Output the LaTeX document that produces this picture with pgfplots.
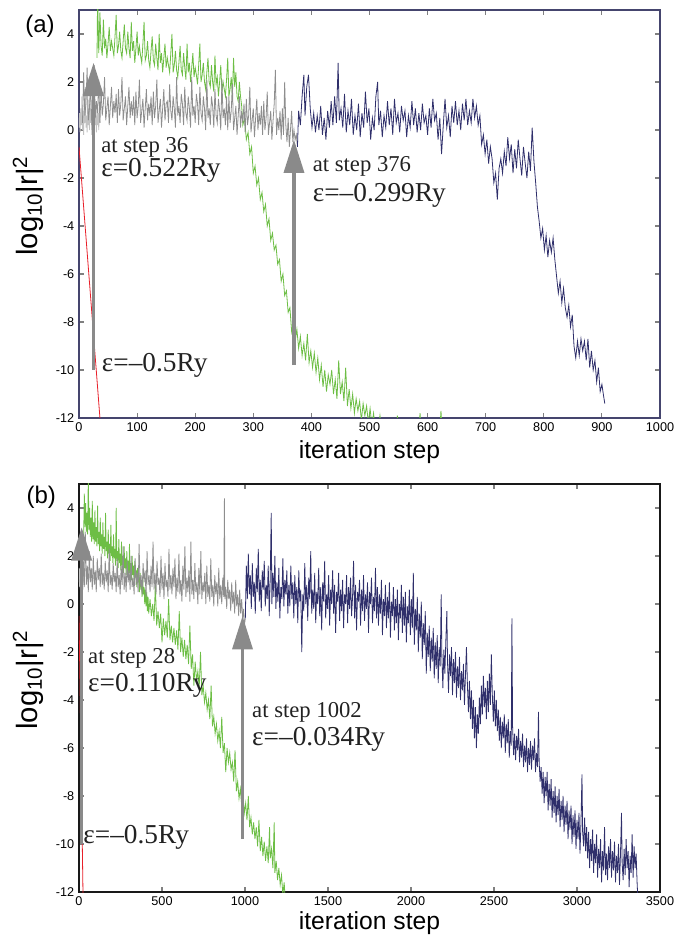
\documentclass[border=0pt]{standalone}
\usepackage{fontspec}
\setmainfont{Liberation Sans}
\newfontfamily\tnr{Liberation Serif}
\usepackage{pgfplots}
\pgfplotsset{compat=1.18}
\usetikzlibrary{arrows.meta}

\definecolor{cgreen}{HTML}{6DBE45}
\definecolor{cnavy}{HTML}{2F2F6B}
\definecolor{cgray}{HTML}{8E8E8E}
\definecolor{clgray}{HTML}{C2C2C2}
\definecolor{cred}{HTML}{E8202A}
\definecolor{carrow}{HTML}{8A8A8A}
\definecolor{frameA}{HTML}{45456E}
\definecolor{ctext}{HTML}{222222}

\pgfplotsset{
  panel/.style={
    scale only axis, width=435.75pt, height=306pt,
    ymin=-12, ymax=5, ytick={-12,-10,...,4},
    tick align=inside, major tick length=4pt,
    tick style={color=gray, line width=0.8pt},
    ticklabel style={font=\fontsize{9.5}{11}\selectfont},
    /pgf/number format/assume math mode=true,
    /pgf/number format/1000 sep={},
    scaled ticks=false,
    clip mode=individual,
    xlabel={iteration step},
    ylabel={log\textsubscript{10}|r|\textsuperscript{2}},
    xlabel style={font=\fontsize{18.5}{22}\selectfont, at={(axis description cs:0.5,0)}, anchor=base, yshift=-30.75pt},
    ylabel style={font=\fontsize{22}{26}\selectfont, at={(axis description cs:-0.0878,0.52)}, anchor=center},
  },
  dline/.style={line width=0.6pt, no markers},
}
\tikzset{
  ann1/.style={font=\tnr\fontsize{17}{20}\selectfont, anchor=base west, inner sep=0pt, text=ctext},
  ann2/.style={font=\tnr\fontsize{20.5}{24}\selectfont, anchor=base west, inner sep=0pt, text=ctext},
  arr/.style={carrow, line width=2.6pt, -{Triangle[width=15pt,length=25pt]}},
}

\begin{document}
\begin{tikzpicture}

% ---------------- panel (a)
\begin{axis}[panel, at={(0pt,355.5pt)}, anchor=south west,
  xmin=0, xmax=1000, xtick={0,100,...,1000},
  axis line style={frameA, line width=1pt}]

\addplot[dline, cgreen] coordinates {
(31,3.0)(32,5.6)(34,3.2)(36,4.9)(38,3.5)(40,3.1)(42,4.6)(44,3.4)(46,3.8)(48,3.0)(50,3.6)(52,4.3)(54,3.3)(56,3.7)(58,3.4)(60,3.1)(62,3.9)(64,4.8)(66,3.2)(68,3.5)(70,4.1)(72,3.3)(74,3.0)(76,3.7)(78,4.4)(80,3.4)(82,3.2)(84,4.1)(86,3.4)(88,3.0)(90,4.5)(92,3.3)(94,3.7)(96,2.8)(98,3.4)(100,4.1)(102,3.1)(104,3.5)(106,3.1)(108,2.8)(110,3.6)(112,4.5)(114,2.9)(116,3.1)(118,3.7)(120,2.9)(122,2.6)(124,3.3)(126,3.9)(128,2.9)(130,2.7)(132,3.6)(134,3.0)(136,2.5)(138,4.0)(140,2.8)(142,3.2)(144,2.4)(146,3.0)(148,3.6)(150,2.6)(152,3.0)(154,2.7)(156,2.4)(158,3.2)(160,4.0)(162,2.4)(164,2.7)(166,3.3)(168,2.5)(170,2.2)(172,2.8)(174,3.5)(176,2.5)(178,2.3)(180,3.2)(182,2.6)(184,2.1)(186,3.6)(188,2.4)(190,2.8)(192,2.0)(194,2.6)(196,3.2)(198,2.2)(200,2.6)(202,2.3)(204,1.9)(206,2.7)(208,3.6)(210,2.0)(212,2.3)(214,2.8)(216,2.0)(218,1.7)(220,2.4)(222,3.0)(224,2.0)(226,1.8)(228,2.7)(230,2.0)(232,1.6)(234,3.1)(236,1.9)(238,2.2)(240,1.4)(242,2.0)(244,2.7)(246,1.6)(248,2.0)(250,1.7)(252,1.4)(254,2.1)(256,3.0)(258,1.4)(260,1.7)(262,2.2)(264,1.4)(266,3.0)(268,1.8)(270,2.4)(272,1.4)(274,1.2)(276,2.0)(278,1.4)(280,1.0)(282,0.2)(285,0.5)(288,-0.4)(291,-0.1)(294,-1.0)(297,-0.7)(300,-1.8)(303,-1.5)(306,-2.3)(309,-2.0)(312,-2.9)(315,-2.6)(318,-3.4)(321,-3.1)(324,-4.0)(327,-3.7)(330,-4.6)(333,-4.3)(336,-5.0)(339,-4.8)(342,-5.6)(345,-5.4)(348,-6.3)(351,-6.0)(354,-6.9)(357,-6.7)(360,-7.6)(363,-7.4)(366,-8.4)(369,-8.0)(372,-8.8)(375,-8.3)(378,-9.1)(381,-8.6)(384,-9.4)(387,-8.9)(390,-9.6)(393,-8.5)(396,-9.7)(399,-9.2)(402,-9.9)(405,-9.3)(408,-10.1)(411,-9.5)(414,-10.4)(417,-9.8)(420,-10.7)(423,-10.0)(426,-10.9)(429,-10.2)(432,-10.6)(435,-10.0)(438,-11.0)(441,-10.4)(444,-11.2)(447,-9.6)(450,-11.0)(453,-10.5)(456,-11.3)(459,-9.9)(462,-11.5)(465,-10.8)(468,-11.6)(471,-11.0)(474,-11.8)(477,-11.2)(480,-11.7)(483,-11.3)(486,-12.1)(489,-11.4)(492,-11.9)(495,-11.5)(498,-12.2)(501,-11.6)(504,-12.3)(507,-11.8)(510,-12.5)(515,-12.5)(518,-11.9)(521,-12.5)(546,-12.5)(548,-11.9)(550,-12.5)(585,-12.5)(587,-11.8)(589,-12.5)(621,-12.5)(623,-11.7)(625,-12.5)
};

\addplot[dline, clgray] coordinates {
(0,0.1)(1,0.7)(2,-0.1)(3,0.9)(4,0.2)(5,1.4)(6,0.0)(7,0.8)(8,-0.2)(9,1.1)(10,0.3)(11,1.8)(12,0.1)(13,0.6)(14,-0.1)(15,1.3)(16,0.2)(17,0.9)(18,0.0)(19,1.6)(20,0.3)(21,0.7)(22,-0.2)(23,1.2)(24,0.1)(25,0.8)(26,0.0)(27,1.5)(28,0.2)(29,0.6)(30,-0.1)(31,1.0)(32,0.2)(33,0.7)(34,0.0)(35,0.9)(36,0.3)
};

\addplot[dline, cgray] coordinates {
(6,0.3)(8,2.4)(10,0.6)(12,1.1)(14,2.6)(16,0.4)(18,0.9)(20,2.0)(22,0.2)(24,1.0)(26,2.7)(28,0.5)(30,1.2)(32,0.7)(34,2.1)(36,0.3)(38,1.7)(40,0.6)(42,1.1)(44,2.2)(46,0.4)(48,0.9)(50,1.4)(52,0.2)(54,1.0)(56,1.8)(58,0.5)(60,1.2)(62,0.7)(64,1.5)(66,0.3)(68,1.7)(70,0.6)(72,1.1)(74,2.2)(76,0.4)(78,0.9)(80,1.4)(82,0.2)(84,1.0)(86,1.8)(88,0.5)(90,1.2)(92,0.6)(94,1.4)(96,0.2)(98,1.6)(100,0.5)(102,1.0)(104,2.1)(106,0.3)(108,0.8)(110,1.3)(112,0.1)(114,0.9)(116,1.7)(118,0.4)(120,1.1)(122,0.6)(124,1.4)(126,0.2)(128,1.6)(130,0.5)(132,1.0)(134,2.1)(136,0.3)(138,0.8)(140,1.3)(142,0.1)(144,0.9)(146,1.7)(148,0.4)(150,1.1)(152,1.2)(154,0.3)(156,1.9)(158,0.8)(160,0.4)(162,1.4)(164,0.9)(166,0.1)(168,2.2)(170,0.6)(172,1.0)(174,0.3)(176,1.5)(178,1.1)(180,0.2)(182,1.8)(184,0.7)(186,0.4)(188,1.4)(190,0.9)(192,0.1)(194,2.2)(196,0.6)(198,1.0)(200,0.3)(202,1.5)(204,1.1)(206,0.2)(208,1.8)(210,0.7)(212,0.4)(214,1.4)(216,0.9)(218,0.0)(220,2.1)(222,0.5)(224,0.9)(226,0.2)(228,1.4)(230,1.0)(232,0.1)(234,1.7)(236,0.6)(238,0.3)(240,1.3)(242,0.8)(244,0.0)(246,2.1)(248,0.5)(250,0.9)(252,0.2)(254,1.4)(256,0.0)(258,1.4)(260,0.3)(262,0.8)(264,1.9)(266,0.0)(268,0.5)(270,1.0)(272,-0.2)(274,0.6)(276,1.4)(278,0.1)(280,0.8)(282,0.3)(284,1.1)(286,-0.1)(288,1.3)(290,0.2)(292,0.6)(294,1.8)(296,-0.1)(298,0.4)(300,0.9)(302,-0.3)(304,0.5)(306,1.3)(308,0.0)(310,0.7)(312,0.2)(314,1.0)(316,-0.2)(318,1.2)(320,0.0)(322,0.5)(324,1.6)(326,-0.2)(328,0.3)(330,0.8)(332,-0.4)(334,0.4)(336,1.1)(338,2.5)(340,-0.2)(342,0.5)(344,0.0)(346,0.8)(348,-0.4)(350,0.9)(352,-0.2)(354,2.0)(356,0.2)(358,-0.5)(360,0.5)(362,-0.7)(364,0.0)(366,0.8)(368,-0.5)(370,0.0)(372,-0.4)(374,-0.2)(376,-0.7)
};

\addplot[dline, cnavy] coordinates {
(376,-0.7)(378,0.8)(381,0.2)(384,1.4)(387,2.3)(389,0.6)(392,1.8)(395,2.3)(398,0.9)(401,0.1)(404,0.7)(407,-0.1)(410,0.6)(413,0.0)(416,1.0)(419,-0.2)(422,0.5)(425,-0.4)(428,0.8)(431,0.1)(434,1.2)(437,0.2)(440,1.4)(443,0.3)(446,2.8)(448,0.4)(451,0.9)(454,0.1)(457,1.5)(460,-0.1)(463,0.8)(466,0.2)(469,1.3)(472,-0.2)(475,0.6)(478,0.0)(481,1.1)(484,-0.3)(487,0.7)(490,0.1)(493,1.6)(496,0.3)(499,0.9)(502,-0.4)(505,0.5)(508,0.0)(511,1.4)(514,2.0)(516,0.2)(519,0.8)(522,-0.3)(525,0.6)(528,0.1)(531,1.2)(534,0.2)(537,0.9)(540,-0.2)(543,1.3)(546,0.3)(549,0.7)(552,-0.1)(555,1.0)(558,0.4)(561,0.8)(564,-0.3)(567,0.6)(570,0.1)(573,1.2)(576,0.2)(579,0.9)(582,-0.1)(585,0.7)(588,0.0)(591,1.1)(594,0.3)(597,0.6)(600,-0.2)(603,0.9)(606,0.1)(609,1.3)(612,0.4)(615,0.7)(618,-0.4)(621,0.5)(624,-1.0)(627,0.2)(630,1.3)(633,0.1)(636,0.6)(639,-0.3)(642,1.0)(645,0.3)(648,1.2)(651,0.2)(654,0.8)(657,0.0)(660,1.1)(663,0.4)(666,1.3)(669,0.2)(672,0.8)(675,0.3)(678,1.3)(681,0.5)(684,1.0)(687,0.2)(690,0.6)(693,-0.6)(696,-0.2)(699,-1.0)(702,-0.4)(705,-1.4)(708,-0.7)(711,-1.2)(714,-2.2)(717,-1.8)(720,-2.9)(723,-1.6)(726,-1.2)(729,-1.8)(732,-0.9)(735,-1.5)(738,-0.3)(741,-1.2)(744,-0.6)(747,-1.8)(750,-0.8)(753,-1.6)(756,-0.4)(759,-1.2)(762,-1.9)(765,-0.7)(768,-1.4)(771,-2.0)(774,-0.9)(777,-1.7)(780,0.1)(783,-1.3)(786,-2.2)(789,-3.2)(792,-3.8)(795,-4.5)(798,-4.1)(801,-5.0)(804,-4.4)(807,-5.3)(810,-4.6)(813,-5.1)(816,-4.5)(819,-5.4)(822,-6.1)(825,-6.8)(828,-6.3)(831,-7.2)(834,-6.6)(837,-7.4)(840,-7.8)(843,-7.3)(846,-8.2)(849,-7.7)(852,-9.0)(855,-9.5)(858,-8.8)(861,-9.4)(864,-8.7)(867,-9.2)(870,-8.8)(873,-9.6)(876,-8.7)(879,-9.9)(882,-9.2)(885,-10.0)(888,-9.6)(891,-10.5)(894,-9.9)(897,-10.9)(900,-10.6)(903,-11.1)(905,-11.4)
};

\addplot[dline, cred] coordinates {(0,-0.7)(37,-12.3)};

\draw[arr] (axis cs:25,-10) -- (axis cs:25,2.8);
\draw[arr] (axis cs:370,-9.8) -- (axis cs:370,-0.4);
\node[ann1] at (axis cs:38,-0.92) {at step 36};
\node[ann2] at (axis cs:38,-1.95) {ε=0.522Ry};
\node[ann1] at (axis cs:402,-1.74) {at step 376};
\node[ann2] at (axis cs:402,-3.0) {ε=–0.299Ry};
\node[ann2] at (axis cs:39,-10.07) {ε=–0.5Ry};
\node[font=\fontsize{18}{22}\selectfont] at (axis description cs:-0.067,0.961) {(a)};
\end{axis}

% ---------------- panel (b)
\begin{axis}[panel, at={(0pt,0pt)}, anchor=south west,
  xmin=0, xmax=3500, xtick={0,500,...,3500},
  xlabel style={yshift=3pt},
  axis line style={black!90, line width=1pt}]

\addplot[dline, cgreen] coordinates {
(28,2.8)(32,4.6)(36,3.2)(40,4.2)(44,3.0)(48,3.8)(52,2.9)(56,5.3)(60,3.1)(64,4.0)(68,2.8)(72,3.6)(76,2.6)(80,4.3)(84,2.7)(88,3.4)(92,2.5)(96,3.9)(100,2.6)(104,3.2)(108,2.4)(112,4.1)(116,2.5)(120,3.0)(124,2.2)(128,3.6)(132,2.4)(136,2.9)(140,2.1)(144,3.4)(148,2.3)(152,2.8)(156,2.0)(160,3.8)(164,2.2)(168,2.6)(172,1.9)(176,3.1)(180,2.1)(184,2.5)(188,1.8)(192,3.3)(196,2.0)(200,2.4)(204,1.7)(208,2.9)(212,1.9)(216,2.3)(220,1.6)(224,4.0)(228,1.8)(232,2.2)(236,1.5)(240,2.7)(244,1.7)(248,2.1)(252,1.4)(256,2.6)(260,1.6)(264,2.0)(268,1.3)(272,2.4)(276,1.5)(280,1.9)(284,1.2)(288,2.2)(292,1.4)(296,1.8)(300,1.1)(304,2.5)(308,1.3)(312,1.7)(316,1.0)(320,2.0)(324,1.2)(328,1.6)(332,0.9)(336,1.8)(340,1.1)(344,1.4)(348,0.7)(352,1.5)(356,0.9)(360,1.2)(364,0.5)(368,1.3)(372,0.6)(376,1.0)(380,0.3)(384,1.1)(388,0.4)(392,0.7)(396,0.0)(400,0.6)(404,-0.1)(408,0.5)(412,-0.3)(416,0.3)(420,-0.4)(428,0.2)(436,-0.5)(444,0.0)(452,-0.7)(460,0.8)(468,-0.9)(476,-0.3)(484,-1.0)(492,-0.4)(500,-1.6)(508,-0.6)(516,-1.3)(524,-0.7)(532,-1.4)(540,0.2)(548,-1.5)(556,-0.9)(564,-1.6)(572,-1.0)(580,-1.7)(588,-1.1)(596,-1.9)(604,-0.3)(612,-2.0)(620,-1.4)(628,-2.2)(636,-1.5)(644,-2.3)(652,-1.7)(660,-2.5)(668,-0.9)(676,-2.7)(684,-2.1)(692,-3.4)(700,-2.4)(708,-3.2)(716,-2.8)(724,-3.5)(732,-2.0)(740,-3.8)(748,-3.4)(756,-4.1)(764,-3.7)(772,-4.4)(780,-4.0)(788,-4.8)(796,-3.4)(804,-5.1)(812,-4.7)(820,-5.4)(828,-5.0)(836,-5.7)(844,-5.3)(852,-6.0)(860,-4.7)(868,-6.2)(876,-5.8)(884,-7.0)(892,-6.0)(900,-6.6)(908,-6.2)(916,-6.9)(924,-6.6)(932,-7.4)(940,-6.1)(948,-7.8)(956,-7.4)(964,-8.1)(972,-7.7)(980,-8.4)(988,-8.0)(996,-8.7)(1004,-8.3)(1012,-9.0)(1020,-8.0)(1028,-9.3)(1036,-8.9)(1044,-9.6)(1052,-9.1)(1060,-9.8)(1068,-9.3)(1076,-10.1)(1084,-9.0)(1092,-10.3)(1100,-9.7)(1108,-10.5)(1116,-9.9)(1124,-10.7)(1132,-10.1)(1140,-10.8)(1148,-9.3)(1152,-10.6)(1160,-10.2)(1168,-11.0)(1176,-9.1)(1180,-11.2)(1188,-10.7)(1196,-11.5)(1204,-11.0)(1212,-11.7)(1220,-11.3)(1228,-12.1)(1236,-11.6)(1244,-12.5)
};

\addplot[dline, clgray] coordinates {
(0,0.9)(2,1.5)(4,0.7)(6,1.3)(8,0.6)(10,1.6)(12,0.8)(14,1.2)(16,0.5)(18,1.4)(20,0.7)(22,1.1)(24,0.6)(26,1.3)(28,0.8)
};

\addplot[dline, cgray] coordinates {
(8,0.9)(14,2.6)(20,0.6)(26,1.8)(32,0.7)(38,3.0)(44,0.8)(50,1.6)(56,0.5)(62,2.2)(68,0.9)(74,1.5)(80,0.6)(86,2.0)(92,0.8)(98,1.4)(104,0.5)(110,1.9)(116,1.0)(122,1.5)(128,0.7)(134,2.1)(140,0.8)(146,1.3)(152,0.6)(158,1.8)(164,0.9)(170,1.4)(176,0.5)(182,2.3)(188,0.8)(194,1.2)(200,0.6)(206,1.7)(212,0.9)(218,1.3)(224,0.5)(230,1.9)(236,0.7)(242,1.2)(248,0.4)(254,1.6)(260,0.8)(266,2.4)(272,0.6)(278,1.3)(284,0.5)(290,1.8)(296,0.9)(302,1.4)(308,0.6)(314,2.0)(320,0.7)(326,1.1)(332,0.4)(338,1.9)(344,0.8)(350,1.3)(356,0.5)(362,2.5)(368,0.7)(374,1.2)(380,0.4)(386,1.7)(392,0.9)(398,1.4)(404,0.3)(410,2.2)(416,0.8)(422,1.2)(428,0.5)(434,1.6)(440,0.7)(446,2.6)(452,0.6)(458,1.3)(464,0.4)(470,1.8)(476,0.8)(482,1.1)(488,0.3)(494,2.0)(500,0.6)(506,1.3)(512,0.2)(518,1.7)(524,0.7)(530,1.0)(536,0.3)(542,2.3)(548,0.6)(554,1.2)(560,0.4)(566,1.5)(572,0.7)(578,1.9)(584,0.2)(590,1.1)(596,0.5)(602,2.1)(608,0.4)(614,1.0)(620,0.1)(626,1.6)(632,0.6)(638,2.4)(644,0.3)(650,1.1)(656,0.5)(662,1.4)(668,0.1)(674,2.6)(680,0.4)(686,1.0)(692,0.2)(698,1.7)(704,0.5)(710,0.9)(716,0.0)(722,1.5)(728,0.4)(734,2.2)(740,0.2)(746,0.9)(752,0.5)(758,1.3)(764,0.0)(770,1.6)(776,0.3)(782,0.8)(788,0.1)(794,1.9)(800,0.3)(806,0.8)(812,-0.1)(818,1.2)(824,0.4)(830,0.9)(836,-0.1)(842,1.5)(848,0.2)(854,0.8)(860,0.0)(866,1.1)(872,0.3)(876,4.4)(879,0.2)(884,0.7)(890,-0.2)(896,1.0)(902,0.2)(908,0.6)(914,-0.3)(920,0.9)(926,0.0)(932,0.5)(938,-0.4)(944,1.0)(950,-0.1)(956,0.4)(962,-0.5)(968,0.6)(974,-0.4)(980,0.2)(986,-0.6)(992,-0.2)(996,-0.9)(1002,-0.6)
};

\addplot[dline, cnavy] coordinates {
(1002,-0.6)(1008,1.6)(1014,0.2)(1020,2.1)(1026,0.4)(1032,1.2)(1038,-0.2)(1044,1.7)(1050,0.3)(1056,0.9)(1062,-0.4)(1068,1.5)(1074,0.5)(1080,2.3)(1086,0.1)(1092,1.0)(1098,-0.3)(1104,1.4)(1110,0.6)(1116,1.8)(1122,-0.1)(1128,0.8)(1134,0.2)(1140,1.6)(1146,-0.5)(1152,1.1)(1158,3.8)(1162,0.0)(1168,1.3)(1174,0.3)(1180,2.0)(1186,-0.2)(1192,0.9)(1198,0.1)(1204,1.5)(1210,-0.6)(1216,0.7)(1222,0.2)(1228,1.9)(1234,-0.1)(1240,1.0)(1246,0.4)(1252,1.4)(1258,-0.4)(1264,0.8)(1270,-0.1)(1276,1.6)(1282,0.2)(1288,0.9)(1294,-0.6)(1300,1.2)(1306,0.0)(1312,0.7)(1318,-0.8)(1324,1.4)(1330,0.1)(1336,0.6)(1342,-2.0)(1348,0.4)(1354,-0.3)(1360,1.7)(1366,0.0)(1372,0.8)(1378,-0.7)(1384,1.1)(1390,0.2)(1396,2.2)(1402,-0.4)(1408,0.6)(1414,-0.2)(1420,1.3)(1426,-0.8)(1432,0.5)(1438,0.0)(1444,1.5)(1450,-0.5)(1456,0.7)(1462,-1.1)(1468,0.9)(1474,0.1)(1480,1.8)(1486,-0.6)(1492,0.4)(1498,-0.2)(1504,1.2)(1510,-0.9)(1516,0.6)(1522,0.0)(1528,1.4)(1534,-0.4)(1540,0.8)(1546,-1.2)(1552,0.5)(1558,0.1)(1564,1.3)(1570,-0.7)(1576,0.6)(1582,-0.3)(1588,1.0)(1594,-1.0)(1600,0.4)(1606,0.0)(1612,1.2)(1618,-0.8)(1624,0.7)(1630,-0.2)(1636,1.1)(1642,-0.5)(1648,0.3)(1654,1.8)(1660,-0.6)(1666,0.8)(1672,-1.1)(1678,0.5)(1684,0.1)(1690,1.0)(1696,-0.9)(1702,0.6)(1708,-0.3)(1714,1.2)(1720,-0.7)(1726,0.4)(1732,-0.2)(1738,0.9)(1744,-1.2)(1750,0.5)(1756,0.0)(1762,1.1)(1768,-0.8)(1774,0.3)(1780,-0.3)(1786,1.5)(1792,-0.6)(1798,0.7)(1804,-0.9)(1810,0.4)(1816,-0.4)(1822,1.0)(1828,-1.3)(1834,0.2)(1840,-0.5)(1846,0.8)(1852,-1.0)(1858,0.3)(1864,-0.6)(1870,0.9)(1876,-1.4)(1882,0.1)(1888,-0.5)(1894,0.7)(1900,-1.1)(1906,0.2)(1912,-0.8)(1918,0.6)(1924,-1.5)(1930,0.0)(1936,-0.6)(1942,0.8)(1948,-1.2)(1954,0.3)(1960,-0.9)(1966,0.5)(1972,-1.6)(1978,-0.1)(1984,-0.8)(1990,0.6)(1996,-1.3)(2002,0.2)(2008,-1.0)(2014,1.3)(2020,-1.7)(2026,-0.2)(2032,-1.1)(2038,0.3)(2044,-2.0)(2050,-0.4)(2056,-1.4)(2062,0.1)(2068,-2.3)(2074,-0.8)(2080,-1.7)(2086,-0.3)(2092,-2.9)(2098,-1.2)(2104,-2.2)(2110,-0.9)(2116,-2.8)(2122,-1.4)(2128,-2.4)(2134,-1.0)(2140,-3.1)(2146,-1.6)(2152,-2.7)(2158,-1.3)(2164,-3.3)(2170,-1.8)(2176,-2.6)(2182,0.4)(2186,-2.2)(2192,-3.5)(2198,-1.9)(2204,-2.9)(2210,-1.5)(2216,-0.3)(2220,-2.4)(2226,-3.7)(2232,-2.1)(2238,-3.0)(2244,-1.8)(2250,-3.8)(2256,-2.3)(2262,-3.3)(2268,-2.0)(2274,-3.9)(2280,-2.6)(2286,-3.5)(2292,-2.2)(2298,-4.0)(2304,-2.8)(2310,-3.6)(2316,-2.5)(2322,-4.2)(2328,-3.0)(2334,-1.8)(2340,-3.4)(2346,-4.5)(2352,-3.2)(2358,-4.8)(2364,-3.6)(2370,-5.2)(2376,-4.0)(2382,-5.6)(2388,-4.3)(2394,-6.0)(2400,-4.6)(2406,-5.4)(2412,-3.9)(2418,-5.0)(2424,-3.4)(2430,-4.6)(2436,-3.0)(2442,-4.3)(2448,-3.5)(2454,-4.8)(2460,-3.2)(2466,-4.5)(2472,-2.9)(2478,-4.2)(2484,-2.1)(2490,-3.8)(2496,-4.9)(2502,-3.6)(2508,-5.1)(2514,-4.0)(2520,-5.3)(2526,-4.4)(2532,-5.7)(2538,-4.7)(2544,-6.0)(2550,-4.9)(2556,-5.6)(2562,-4.6)(2568,-6.2)(2574,-5.0)(2580,-5.8)(2586,-4.8)(2592,-6.4)(2598,-5.3)(2604,-5.9)(2608,-0.6)(2612,-5.1)(2618,-6.3)(2624,-5.4)(2630,-6.5)(2636,-5.5)(2642,-6.1)(2648,-5.2)(2654,-6.6)(2660,-5.7)(2666,-6.4)(2672,-5.4)(2678,-6.8)(2684,-5.9)(2690,-6.6)(2696,-5.6)(2702,-7.0)(2708,-6.0)(2714,-6.7)(2720,-5.7)(2726,-6.9)(2732,-5.9)(2738,-6.5)(2744,-5.6)(2750,-7.0)(2756,-6.2)(2762,-6.8)(2768,-4.5)(2772,-6.6)(2778,-7.4)(2784,-6.8)(2790,-7.9)(2796,-7.0)(2802,-8.3)(2808,-7.2)(2814,-8.0)(2820,-7.0)(2826,-8.6)(2832,-7.5)(2838,-8.4)(2844,-7.3)(2850,-8.9)(2856,-7.8)(2862,-8.7)(2868,-7.6)(2874,-9.1)(2880,-8.0)(2886,-8.8)(2892,-7.7)(2898,-9.3)(2904,-8.2)(2910,-9.0)(2916,-8.0)(2922,-9.5)(2928,-8.4)(2934,-9.2)(2940,-8.2)(2946,-9.8)(2952,-8.6)(2958,-9.4)(2964,-8.4)(2970,-10.0)(2976,-8.8)(2982,-9.7)(2988,-8.6)(2994,-10.2)(3000,-9.0)(3006,-9.8)(3012,-8.7)(3018,-10.4)(3024,-9.1)(3030,-7.1)(3034,-9.5)(3040,-10.1)(3046,-8.9)(3052,-10.3)(3058,-9.3)(3064,-10.6)(3070,-9.5)(3076,-11.0)(3082,-9.8)(3088,-10.7)(3094,-9.4)(3100,-11.2)(3106,-10.0)(3112,-10.8)(3118,-9.6)(3124,-11.4)(3130,-10.2)(3136,-11.0)(3142,-9.8)(3148,-11.6)(3154,-10.3)(3160,-11.1)(3166,-9.3)(3172,-11.3)(3178,-10.4)(3184,-11.5)(3190,-10.1)(3196,-11.0)(3202,-9.8)(3208,-11.4)(3214,-10.3)(3220,-11.1)(3226,-9.9)(3232,-11.6)(3238,-10.5)(3244,-11.2)(3250,-10.0)(3256,-11.7)(3262,-10.4)(3268,-8.7)(3272,-10.8)(3278,-11.5)(3284,-10.2)(3290,-11.3)(3296,-9.8)(3302,-11.0)(3308,-10.3)(3314,-11.8)(3320,-10.5)(3326,-11.2)(3332,-9.6)(3338,-11.4)(3344,-10.1)(3350,-11.0)(3356,-10.4)(3362,-11.6)(3368,-12.5)
};

\addplot[dline, cred] coordinates {(0,-0.5)(25,-12.5)};

\draw[arr] (axis cs:16,-10) -- (axis cs:16,3.2);
\draw[arr] (axis cs:985,-9.8) -- (axis cs:985,-0.5);
\node[ann1] at (axis cs:54,-2.46) {at step 28};
\node[ann2] at (axis cs:54,-3.65) {ε=0.110Ry};
\node[ann1] at (axis cs:1042,-4.75) {at step 1002};
\node[ann2] at (axis cs:1042,-5.9) {ε=–0.034Ry};
\node[ann2] at (axis cs:25,-9.96) {ε=–0.5Ry};
\node[font=\fontsize{18}{22}\selectfont] at (axis description cs:-0.065,0.968) {(b)};
\end{axis}

\pgfresetboundingbox
\useasboundingbox (-59.25pt,-32.25pt) rectangle (449.25pt,669pt);
\end{tikzpicture}
\end{document}
